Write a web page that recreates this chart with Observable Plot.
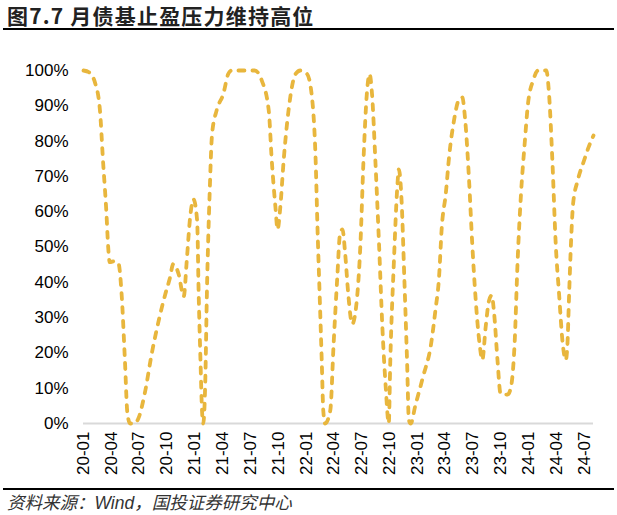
<!DOCTYPE html>
<html><head><meta charset="utf-8">
<script src="https://cdn.jsdelivr.net/npm/d3@7"></script>
<script src="https://cdn.jsdelivr.net/npm/@observablehq/plot@0.6"></script>
<style>
body{margin:0;background:#fff;}
#wrap{position:relative;width:617px;height:515px;overflow:hidden;background:#fff;}
#title{position:absolute;left:7px;top:0px;font-size:21px;font-weight:bold;color:#222;font-family:"Noto Sans CJK SC",sans-serif;line-height:normal;white-space:nowrap;letter-spacing:1.2px;}
.rule{position:absolute;left:3px;width:611px;height:2px;background:#000;}
#src{position:absolute;left:7px;top:491px;font-size:17.5px;line-height:24px;font-style:italic;color:#333;font-family:"Liberation Sans","Noto Sans CJK SC",sans-serif;white-space:nowrap;}
#chart{position:absolute;left:0;top:40px;}
</style></head>
<body>
<div id="wrap">
  <div id="title">图7.7 月债基止盈压力维持高位</div>
  <div class="rule" style="top:28px"></div>
  <div id="chart"></div>
  <div class="rule" style="top:488px"></div>
  <div id="src">资料来源：Wind，国投证券研究中心</div>
</div>
<script>
const dates = [
"2020-01-01","2020-01-19","2020-02-08","2020-02-24","2020-03-05","2020-03-16","2020-03-22","2020-03-27","2020-04-13","2020-04-25",
"2020-05-05","2020-05-16","2020-05-24","2020-06-02","2020-06-16","2020-06-29","2020-07-20","2020-08-12","2020-09-04","2020-09-25",
"2020-10-10","2020-10-22","2020-11-08","2020-11-25","2020-12-05","2020-12-16","2020-12-27","2021-01-08","2021-01-13","2021-01-19",
"2021-01-24","2021-01-28","2021-02-04","2021-02-09","2021-02-18","2021-02-26","2021-03-13","2021-04-04","2021-04-20","2021-05-01",
"2021-07-16","2021-08-08","2021-08-31","2021-09-10","2021-09-22","2021-09-29","2021-10-08","2021-10-19","2021-11-04","2021-11-27",
"2021-12-13","2022-01-04","2022-01-22","2022-02-01","2022-02-07","2022-02-14","2022-02-21","2022-02-26","2022-03-04","2022-03-21",
"2022-04-01","2022-04-13","2022-04-22","2022-04-30","2022-05-09","2022-05-19","2022-06-01","2022-06-16","2022-06-28","2022-07-08",
"2022-07-19","2022-07-28","2022-08-05","2022-08-16","2022-08-28","2022-09-08","2022-09-19","2022-09-29","2022-10-04","2022-10-16",
"2022-10-27","2022-11-01","2022-11-10","2022-11-19","2022-11-28","2022-12-04","2022-12-10","2022-12-25","2023-01-19","2023-02-15",
"2023-03-01","2023-03-13","2023-03-22","2023-04-04","2023-04-16","2023-05-01","2023-05-16","2023-05-28","2023-06-07","2023-06-19",
"2023-06-30","2023-07-10","2023-07-24","2023-08-02","2023-08-13","2023-08-24","2023-09-02","2023-09-10","2023-09-21","2023-10-01",
"2023-10-24","2023-11-04","2023-11-16","2023-11-26","2023-12-07","2023-12-19","2023-12-30","2024-01-16","2024-02-01","2024-02-28",
"2024-03-08","2024-03-19","2024-03-30","2024-04-10","2024-04-22","2024-05-02","2024-05-07","2024-05-13","2024-05-19","2024-05-26",
"2024-06-10","2024-07-01","2024-07-16","2024-08-01"
];
const share = [
100,99.5,96.5,88.7,74.5,60,50,45.7,46,45.3,
36.8,17.8,3,0,0,1.4,8.5,19.8,29.2,36.5,
41,45.2,42.4,36,46.2,58.4,63.5,57.5,36.8,17.8,
3.7,0,13,36.8,65,82,88.7,93.4,99,100,
100,97.2,88.7,74.5,61.3,55,61.3,74.5,88.7,99,
100,99,90.6,74.5,55.6,36.8,17.8,3.7,0,3.7,
22.6,41.4,53.7,55,48,36.7,28.2,34.8,50.9,74.5,
93.4,99,93.4,74.5,50.9,27.3,10.3,0,17.8,46.2,
67,72,63.2,41.4,17.8,1,0,5,13.1,22.6,
32,41.4,55.6,65,76.4,85.8,91.5,92.4,85.8,69.8,
50.9,36.7,22.6,18,27.3,34.8,36.3,31,17.8,8.4,
8.2,10.3,22.6,46.2,65,79.2,90.6,97.2,100,100,
93.4,74.5,50.9,36.7,22.6,18,21.6,36.7,50.9,62.2,
68.8,74.5,78.3,81.6
];
const xStart = "2020-01-01", xEnd = "2024-08-01", lastTick = "2024-07-01";
const yTicks = [0,10,20,30,40,50,60,70,80,90,100];

const data = dates.map((d, i) => ({date: new Date(d + "T00:00:00Z"), v: share[i]}));
const xTicks = d3.utcMonth.every(3).range(new Date(xStart + "T00:00:00Z"), new Date(lastTick + "T00:00:01Z"));

const chart = Plot.plot({
  width: 617,
  height: 445,
  marginLeft: 83,
  marginRight: 24,
  marginTop: 30,
  marginBottom: 62,
  style: {fontSize: "17px", fontFamily: "'Liberation Sans', Arial, sans-serif", color: "#000", background: "transparent"},
  x: {type: "utc", domain: [new Date(xStart + "T00:00:00Z"), new Date(xEnd + "T00:00:00Z")], ticks: xTicks,
      tickFormat: d3.utcFormat("%y-%m"), tickRotate: -90, tickSize: 0, tickPadding: 8, label: null},
  y: {domain: [0, 100], ticks: yTicks, tickFormat: d => d + "%", tickSize: 0, tickPadding: 15, label: null},
  marks: [
    Plot.ruleY([0], {stroke: "#d9d9d9", strokeWidth: 2}),
    Plot.lineY(data, {x: "date", y: "v", stroke: "#E8B63D", strokeWidth: 3.8, strokeDasharray: "6,8", strokeLinecap: "round", curve: "monotone-x"})
  ]
});
document.getElementById("chart").appendChild(chart);
</script>
</body></html>
